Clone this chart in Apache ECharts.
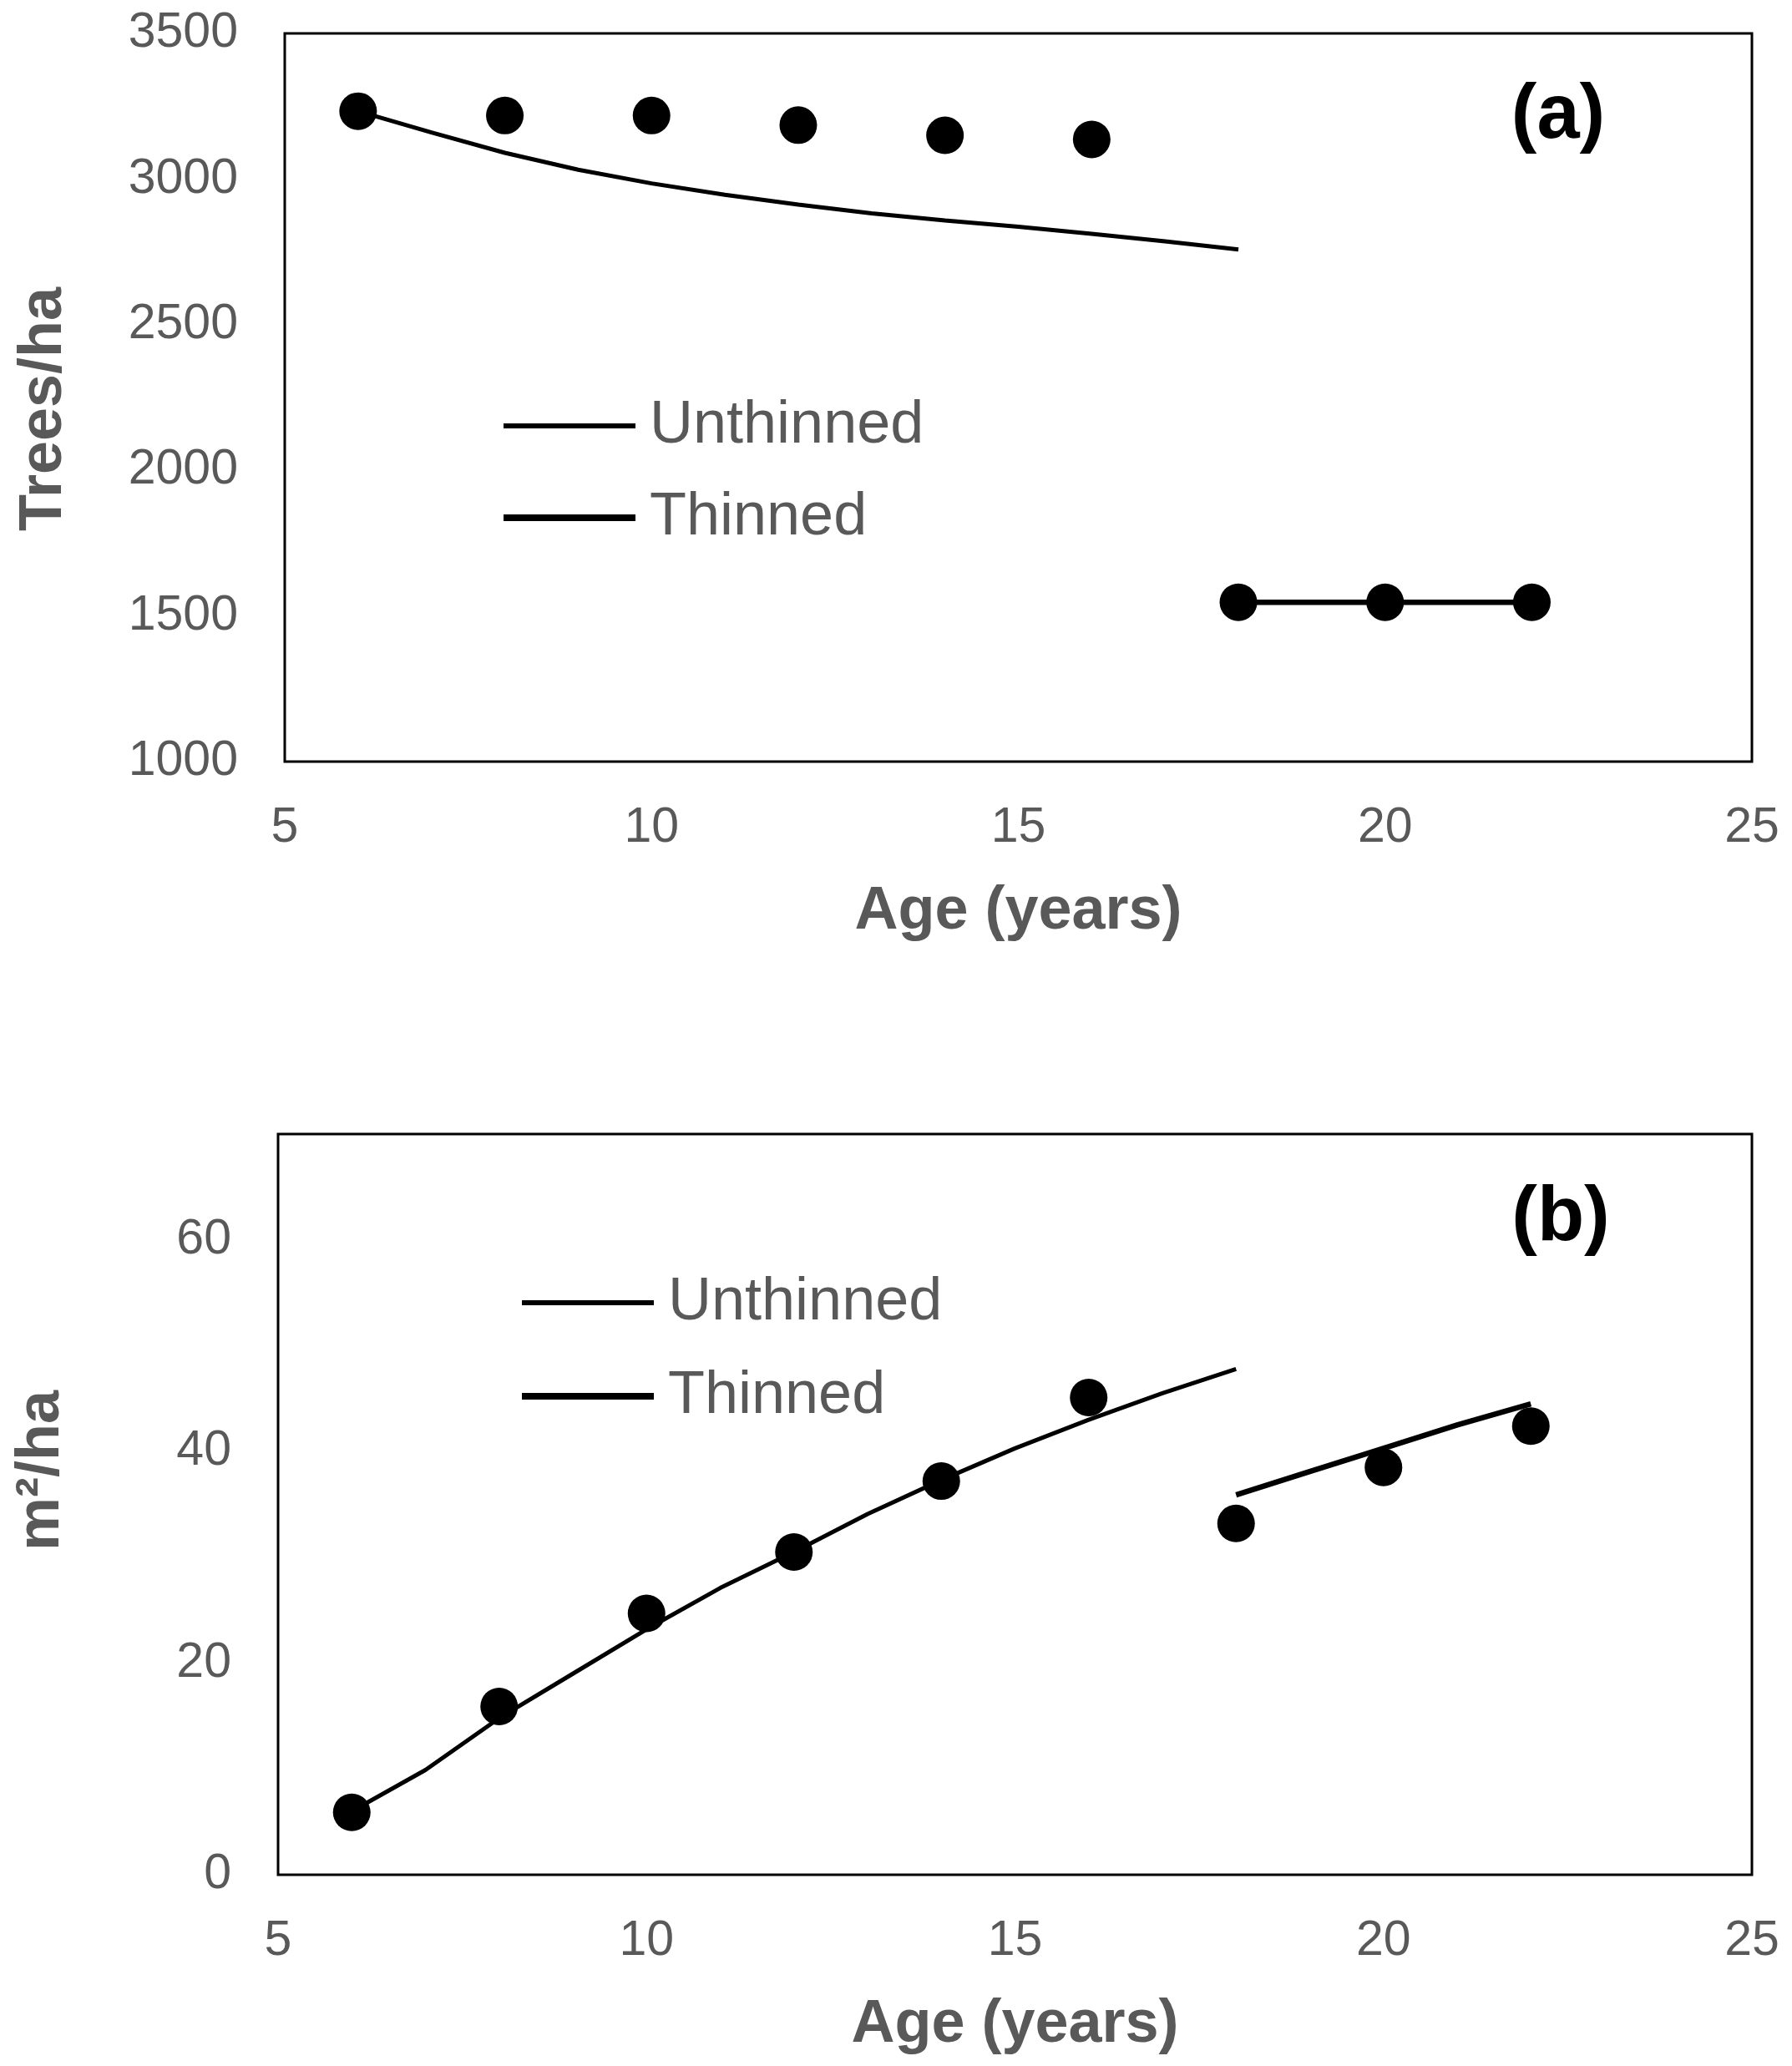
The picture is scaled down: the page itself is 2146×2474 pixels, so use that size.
<!DOCTYPE html>
<html>
<head>
<meta charset="utf-8">
<script src="https://cdn.jsdelivr.net/npm/echarts@6/dist/echarts.min.js"></script>
<style>
html,body{margin:0;padding:0;background:#fff;}
#chart{width:2146px;height:2474px;}
</style>
</head>
<body>
<div id="chart"></div>
<script>
// ---- data ----
const xTicks = [5, 10, 15, 20, 25];
const treesTicks = [1000, 1500, 2000, 2500, 3000, 3500];
const baTicks = [0, 20, 40, 60];

const modelAges = [6, 7, 8, 9, 10, 11, 12, 13, 14, 15, 16, 17, 18];
const unthinnedTrees = [3233, 3160, 3090, 3032, 2985, 2946, 2912, 2882, 2858, 2836, 2812, 2786, 2758];
const unthinnedBA = [6.0, 9.9, 14.8, 19.0, 23.2, 27.1, 30.5, 34.1, 37.3, 40.3, 43.0, 45.5, 47.8];

const thinnedTreeAges = [18, 20, 22];
const thinnedTrees = [1547, 1547, 1547];
const thinnedBAAges = [18, 19, 20, 21, 22];
const thinnedBA = [35.9, 38.1, 40.3, 42.5, 44.5];

const obsAges = [6, 8, 10, 12, 14, 16, 18, 20, 22];
const obsTrees = [3233, 3218, 3218, 3185, 3150, 3136, 1547, 1547, 1547];
const obsBA = [5.9, 15.9, 24.7, 30.5, 37.2, 45.1, 33.2, 38.5, 42.4];

// ---- chart ----
const FONT = '"Liberation Sans", Arial, Helvetica, sans-serif';
const GRAY = '#595959';
const pairs = (xs, ys) => xs.map((x, i) => [x, ys[i]]);

const chart = echarts.init(document.getElementById('chart'), null, {renderer: 'canvas'});

function xAxisFor(gridIndex) {
  return {
    type: 'value', gridIndex: gridIndex,
    min: xTicks[0], max: xTicks[xTicks.length - 1], interval: xTicks[1] - xTicks[0],
    name: 'Age (years)', nameLocation: 'middle', nameGap: 144,
    nameTextStyle: {fontSize: 72, fontWeight: 'bold', color: GRAY, fontFamily: FONT},
    axisLine: {show: false}, axisTick: {show: false}, splitLine: {show: false},
    axisLabel: {fontSize: 59, color: GRAY, fontFamily: FONT, margin: 50}
  };
}

function yAxisFor(gridIndex, ticks, max) {
  return {
    type: 'value', gridIndex: gridIndex,
    min: ticks[0], max: max, interval: ticks[1] - ticks[0],
    axisLine: {show: false}, axisTick: {show: false}, splitLine: {show: false},
    axisLabel: {
      fontSize: 59, color: GRAY, fontFamily: FONT, margin: 56,
      formatter: function (v) { return ticks.indexOf(v) >= 0 ? String(v) : ''; }
    }
  };
}

function legendFor(left, top, gap) {
  return {
    orient: 'vertical', left: left, top: top, padding: 0,
    itemWidth: 158, itemHeight: 20, itemGap: gap,
    selectedMode: false,
    itemStyle: {borderWidth: 0},
    data: [
      {name: 'Unthinned', icon: 'path://M0,0H158V6H0Z'},
      {name: 'Thinned', icon: 'path://M0,0H158V8H0Z'}
    ],
    textStyle: {fontSize: 72, color: GRAY, fontFamily: FONT, lineHeight: 80, padding: [0, 0, 0, 12]}
  };
}

const lineBase = {
  type: 'line', showSymbol: false, symbol: 'none', smooth: false,
  color: '#000', itemStyle: {color: '#000'}, silent: true, z: 2
};
const scatterBase = {
  type: 'scatter', symbol: 'circle', symbolSize: 45,
  itemStyle: {color: '#000', opacity: 1}, silent: true, z: 3
};

const option = {
  backgroundColor: '#fff',
  animation: false,
  textStyle: {fontFamily: FONT},
  grid: [
    {left: 341, top: 40, width: 1757, height: 872, show: true, borderColor: '#000', borderWidth: 3, backgroundColor: 'transparent'},
    {left: 333, top: 1358, width: 1765, height: 887, show: true, borderColor: '#000', borderWidth: 3, backgroundColor: 'transparent'}
  ],
  xAxis: [xAxisFor(0), xAxisFor(1)],
  yAxis: [yAxisFor(0, treesTicks, 3500), yAxisFor(1, baTicks, 70)],
  legend: [legendFor(603, 470, 30), legendFor(625, 1520, 32)],
  graphic: [
    {type: 'text', x: 53, y: 490, rotation: Math.PI / 2,
     style: {text: 'Trees/ha', fontSize: 72, fontWeight: 'bold', fontFamily: FONT, fill: GRAY, align: 'center', verticalAlign: 'middle'}},
    {type: 'text', x: 50, y: 1761, rotation: Math.PI / 2,
     style: {text: 'm²/ha', fontSize: 72, fontWeight: 'bold', fontFamily: FONT, fill: GRAY, align: 'center', verticalAlign: 'middle'}},
    {type: 'text', x: 1866, y: 140,
     style: {text: '(a)', fontSize: 92, fontWeight: 'bold', fontFamily: FONT, fill: '#000', align: 'center', verticalAlign: 'middle'}},
    {type: 'text', x: 1869, y: 1460,
     style: {text: '(b)', fontSize: 92, fontWeight: 'bold', fontFamily: FONT, fill: '#000', align: 'center', verticalAlign: 'middle'}}
  ],
  series: [
    Object.assign({}, lineBase, {name: 'Unthinned', xAxisIndex: 0, yAxisIndex: 0,
      lineStyle: {color: '#000', width: 5}, data: pairs(modelAges, unthinnedTrees)}),
    Object.assign({}, lineBase, {name: 'Thinned', xAxisIndex: 0, yAxisIndex: 0,
      lineStyle: {color: '#000', width: 6.5}, data: pairs(thinnedTreeAges, thinnedTrees)}),
    Object.assign({}, scatterBase, {name: 'Observed (a)', xAxisIndex: 0, yAxisIndex: 0,
      data: pairs(obsAges, obsTrees)}),
    Object.assign({}, lineBase, {name: 'Unthinned', xAxisIndex: 1, yAxisIndex: 1,
      lineStyle: {color: '#000', width: 5}, data: pairs(modelAges, unthinnedBA)}),
    Object.assign({}, lineBase, {name: 'Thinned', xAxisIndex: 1, yAxisIndex: 1,
      lineStyle: {color: '#000', width: 6.5}, data: pairs(thinnedBAAges, thinnedBA)}),
    Object.assign({}, scatterBase, {name: 'Observed (b)', xAxisIndex: 1, yAxisIndex: 1,
      data: pairs(obsAges, obsBA)})
  ]
};

chart.setOption(option);
</script>
</body>
</html>
